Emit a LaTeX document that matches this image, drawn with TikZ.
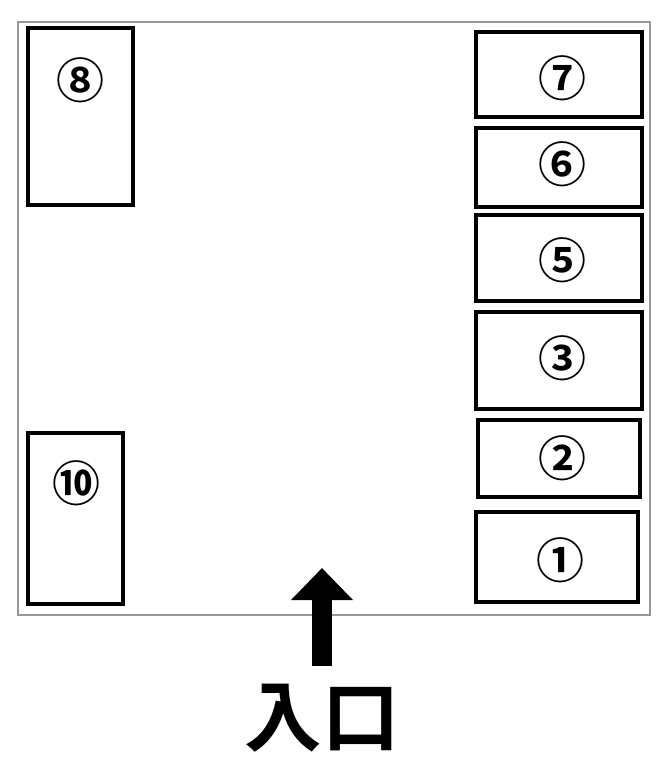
\documentclass[tikz,border=0pt]{standalone}
\usepackage{fontspec}
\newfontfamily\cjk{Noto Sans CJK JP}
\newfontfamily\cjkbold{Noto Sans CJK JP Bold}
\usetikzlibrary{arrows.meta}
\tikzset{every picture/.style={line width=0.75pt}}
\tikzset{
  stall/.style={draw=black,line width=3pt},
  num/.style={font=\cjkbold\fontsize{36}{36}\selectfont,anchor=center},
}
\begin{document}
\begin{tikzpicture}[x=0.75pt,y=0.75pt,yscale=-1,xscale=1]
\useasboundingbox (0,0) rectangle (668,757);

% hall outline
\draw [color={rgb, 255:red, 150; green, 150; blue, 150 },line width=1.5pt] (18,22) rectangle (650,615);

% stalls
\draw [stall] (28,28) rectangle (133,205);
\draw [stall] (28,433) rectangle (123,604);
\draw [stall] (476,32) rectangle (642,117);
\draw [stall] (476,128) rectangle (642,207);
\draw [stall] (476,215) rectangle (642,301);
\draw [stall] (476,312) rectangle (642,409);
\draw [stall] (478,420) rectangle (640,497);
\draw [stall] (476,512) rectangle (638,602);

\node [num] (s8) at (80,80) {⑧};
\node [num] (s10) at (76,483) {⑩};
\node [num] (s7) at (562,78) {⑦};
\node [num] (s6) at (562,164) {⑥};
\node [num] (s5) at (562,260) {⑤};
\node [num] (s3) at (562,358) {③};
\node [num] (s2) at (562,458) {②};
\node [num] (s1) at (560,560) {①};

% entrance
\node [font=\cjkbold\fontsize{58}{58}\selectfont] (entry) at (322,718) {入口};
\coordinate (tip) at (322,568);
\draw [line width=15pt,-{Triangle[width=45pt,length=24pt]}] (322,666) -- (tip);

\end{tikzpicture}
\end{document}
